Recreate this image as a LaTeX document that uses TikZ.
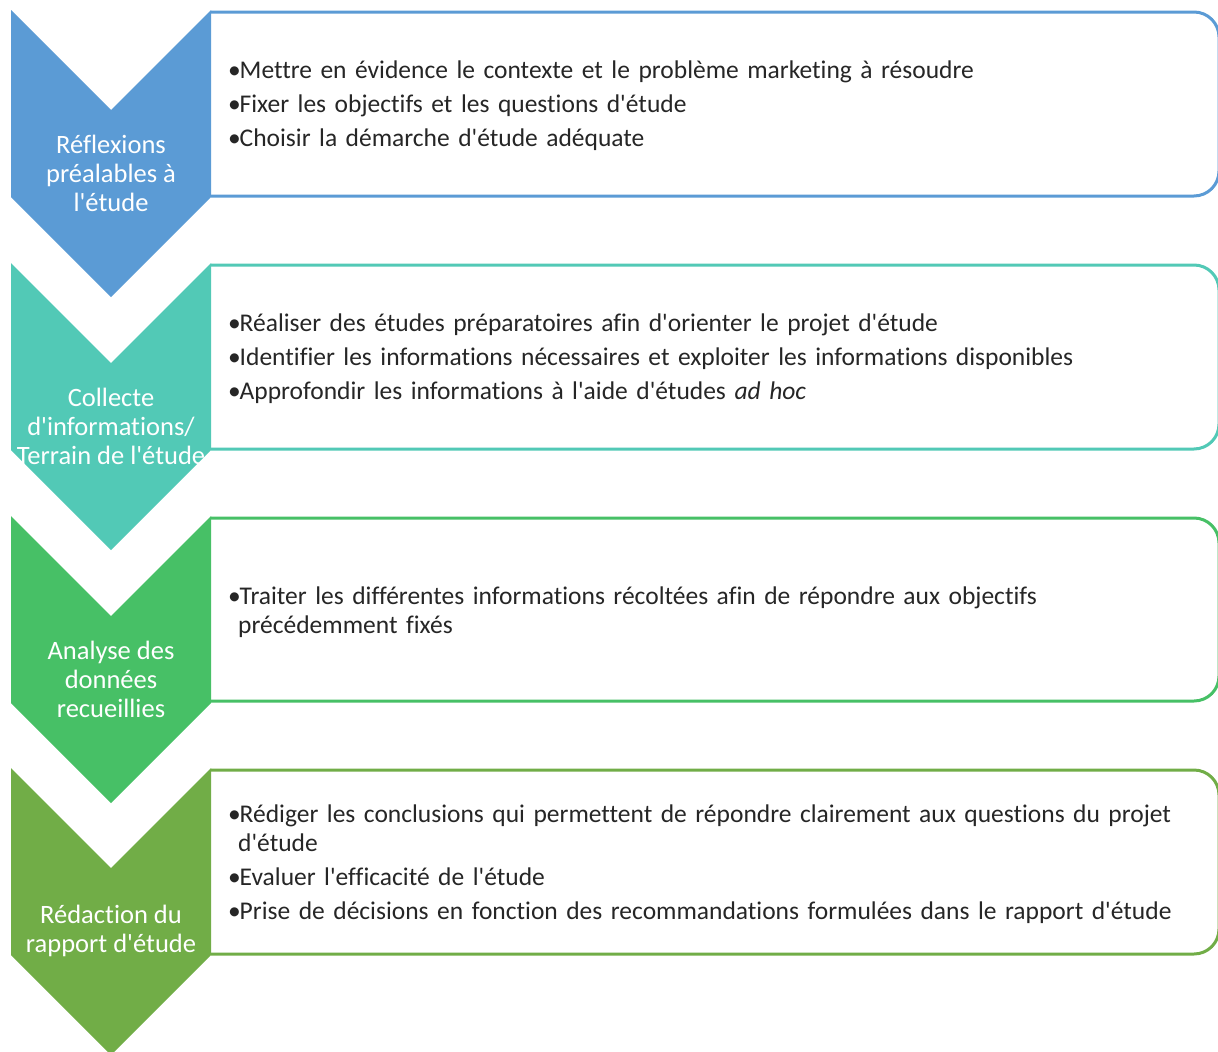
\documentclass[tikz,border=0pt]{standalone}
\usepackage{fontspec}
\setmainfont{Carlito}[Ligatures={TeXOff,NoCommon}]
\usetikzlibrary{positioning,calc}
\definecolor{etapeA}{HTML}{5B9BD5}
\definecolor{etapeB}{HTML}{52C9B6}
\definecolor{etapeC}{HTML}{47C066}
\definecolor{etapeD}{HTML}{71AD47}
\definecolor{texte}{HTML}{262626}
\tikzset{
  chevron/.style={draw=none},
  cadre/.style={line width=3pt, rounded corners=25pt, fill=white},
  etiquette/.style={text=white, align=center, font=\fontsize{26.5}{29}\selectfont, inner sep=0pt},
  liste/.style={anchor=west, text width=1000pt, align=left, font=\fontsize{25.5}{29.5}\selectfont, inner sep=0pt, text=texte}
}
\newcommand{\puce}{\par\hangindent=11pt\hangafter=1\noindent\makebox[12.5pt][l]{\hspace{1pt}\textbullet}}
\newcommand{\listepuces}[1]{\setlength{\parskip}{4.5pt}#1\par}

\begin{document}
\begin{tikzpicture}[x=1pt, y=-1pt]
  \useasboundingbox (0,0) rectangle (1218,1052);
  % step 1
  \draw[cadre, draw=etapeA] (211,12) -- (1219,12) -- (1219,196) -- (211,196);
  \fill[etapeA] (11,10) -- (111,110) -- (211,10) -- (211,197) -- (111,297) -- (11,197) -- cycle;
  \node[etiquette] (lbl1) at (111,173) {Réflexions\\préalables à\\l'étude};
  \node[liste] (txt1) at (227,98) {\listepuces{%
    \puce Mettre en évidence le contexte et le problème marketing à résoudre
    \puce Fixer les objectifs et les questions d'étude
    \puce Choisir la démarche d'étude adéquate}};
  % step 2
  \draw[cadre, draw=etapeB] (211,265) -- (1219,265) -- (1219,449) -- (211,449);
  \fill[etapeB] (11,263) -- (111,363) -- (211,263) -- (211,450) -- (111,550) -- (11,450) -- cycle;
  \node[etiquette] (lbl2) at (111,426) {Collecte\\d'informations/\\Terrain de l'étude};
  \node[liste] (txt2) at (227,351) {\listepuces{%
    \puce Réaliser des études préparatoires afin d'orienter le projet d'étude
    \puce Identifier les informations nécessaires et exploiter les informations disponibles
    \puce Approfondir les informations à l'aide d'études \textit{ad hoc}}};
  % step 3
  \draw[cadre, draw=etapeC] (211,518) -- (1219,518) -- (1219,701) -- (211,701);
  \fill[etapeC] (11,516) -- (111,616) -- (211,516) -- (211,703) -- (111,803) -- (11,703) -- cycle;
  \node[etiquette] (lbl3) at (111,679) {Analyse des\\données\\recueillies};
  \node[liste] (txt3) at (227,604) {\listepuces{%
    \puce Traiter les différentes informations récoltées afin de répondre aux objectifs\newline précédemment fixés}};
  % step 4
  \draw[cadre, draw=etapeD] (211,770) -- (1219,770) -- (1219,954) -- (211,954);
  \fill[etapeD] (11,768) -- (111,868) -- (211,768) -- (211,955) -- (111,1055) -- (11,955) -- cycle;
  \node[etiquette] (lbl4) at (111,931) {Rédaction du\\rapport d'étude};
  \node[liste] (txt4) at (227,856) {\listepuces{%
    \puce Rédiger les conclusions qui permettent de répondre clairement aux questions du projet\newline d'étude
    \puce Evaluer l'efficacité de l'étude
    \puce Prise de décisions en fonction des recommandations formulées dans le rapport d'étude}};
\end{tikzpicture}
\end{document}
